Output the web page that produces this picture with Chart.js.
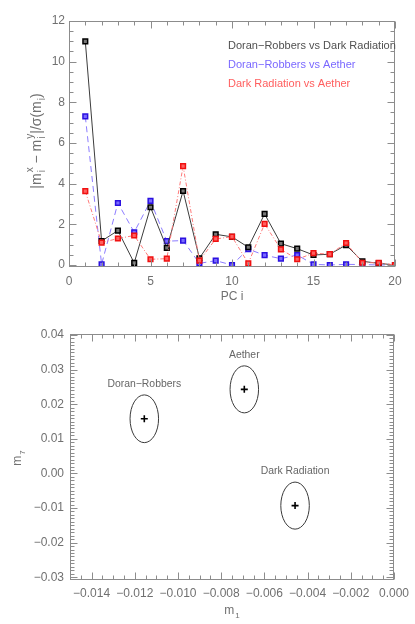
<!DOCTYPE html>
<html>
<head>
<meta charset="utf-8">
<script src="https://cdn.jsdelivr.net/npm/chart.js@4.4.0/dist/chart.umd.min.js"></script>
<style>
body{margin:0;background:#fff;}
canvas{position:absolute;left:0;}
#top{top:0;}
#bottom{top:310px;}
</style>
</head>
<body>
<canvas id="top" width="415" height="310"></canvas>
<canvas id="bottom" width="415" height="314"></canvas>
<script>
// top panel: |m_i^x - m_i^y| / sigma per PC
const pcIndex = [1,2,3,4,5,6,7,8,9,10,11,12,13,14,15,16,17,18,19,20];
const doranVsDark  = [11.0,1.18,1.69,0.10,2.84,0.84,3.64,0.33,1.51,1.38,0.87,2.51,1.05,0.80,0.49,0.53,0.98,0.18,0.08,0.0];
const doranVsAether = [7.31,0.03,3.05,1.61,3.15,1.17,1.20,0.08,0.21,0.0,0.78,0.48,0.31,0.49,0.03,0.0,0.03,0.02,0.0,0.0];
const darkVsAether = [3.63,1.10,1.30,1.45,0.28,0.31,4.86,0.21,1.28,1.39,0.08,2.02,0.77,0.28,0.58,0.53,1.08,0.11,0.11,0.0];
const topXTicks = [0,5,10,15,20];
const topXLabels = ['0','5','10','15','20'];
const topYTicks = [0,2,4,6,8,10,12];
const topYLabels = ['0','2','4','6','8','10','12'];

// bottom panel: models in the m1 / m7 plane
const models = ['Doran\u2212Robbers','Aether','Dark Radiation'];
const m1 = [-0.01156,-0.00693,-0.00458];
const m7 = [0.0158,0.0243,-0.0093];
const sig1 = [0.00066,0.00066,0.00066];
const sig7 = [0.0069,0.0068,0.0068];
const botXTicks = [-0.014,-0.012,-0.010,-0.008,-0.006,-0.004,-0.002,0.0];
const botXLabels = ['\u22120.014','\u22120.012','\u22120.010','\u22120.008','\u22120.006','\u22120.004','\u22120.002','0.000'];
const botYTicks = [-0.03,-0.02,-0.01,0.0,0.01,0.02,0.03,0.04];
const botYLabels = ['\u22120.03','\u22120.02','\u22120.01','0.00','0.01','0.02','0.03','0.04'];

const FONT = '"Liberation Sans", Arial, sans-serif';
const AXIS = '#8c8c8c';
const TXT = '#707070';

function drawRich(ctx, parts, x, y, rot, size, color) {
  const big = size + 'px ' + FONT, small = Math.round(size * 0.7) + 'px ' + FONT;
  ctx.save();
  ctx.translate(x, y);
  ctx.rotate(rot);
  let w = 0;
  parts.forEach(p => {
    ctx.font = big; w += ctx.measureText(p.t).width;
    ctx.font = small;
    let sw = 0;
    if (p.sub) sw = ctx.measureText(p.sub).width + 1;
    if (p.sup) sw = Math.max(sw, ctx.measureText(p.sup).width + 1);
    w += sw;
  });
  let cx = -w / 2;
  ctx.textBaseline = 'middle';
  ctx.textAlign = 'left';
  ctx.fillStyle = color;
  parts.forEach(p => {
    ctx.font = big; ctx.fillText(p.t, cx, 0); cx += ctx.measureText(p.t).width;
    ctx.font = small;
    let sw = 0;
    if (p.sub) { ctx.fillText(p.sub, cx + 1, size * 0.4); sw = ctx.measureText(p.sub).width + 1; }
    if (p.sup) { ctx.fillText(p.sup, cx + 1, -size * 0.45); sw = Math.max(sw, ctx.measureText(p.sup).width + 1); }
    cx += sw;
  });
  ctx.restore();
}

// box with inward ticks on all four sides
const frame = {
  id: 'frame',
  afterDatasetsDraw(chart, args, o) {
    const {ctx, chartArea: a, scales: {x, y}} = chart;
    const L = Math.round(a.left) + 0.5, R = Math.round(a.right) - 0.5;
    const T = Math.round(a.top) + 0.5, B = Math.round(a.bottom) - 0.5;
    ctx.save();
    ctx.strokeStyle = AXIS;
    ctx.lineWidth = 1;
    ctx.strokeRect(L, T, R - L, B - T);
    ctx.beginPath();
    const marks = (scale, step, major, fn) => {
      const k0 = Math.ceil(scale.min / step - 1e-6), k1 = Math.floor(scale.max / step + 1e-6);
      for (let k = k0; k <= k1; k++) {
        const v = k * step;
        const isMajor = Math.abs(v / major - Math.round(v / major)) < 1e-6;
        fn(Math.round(scale.getPixelForValue(v)) + 0.5, isMajor ? o.majorLen : o.minorLen);
      }
    };
    marks(x, o.xMinor, o.xMajor, (px, len) => {
      ctx.moveTo(px, B); ctx.lineTo(px, B - len);
      ctx.moveTo(px, T); ctx.lineTo(px, T + len);
    });
    marks(y, o.yMinor, o.yMajor, (py, len) => {
      ctx.moveTo(L, py); ctx.lineTo(L + len, py);
      ctx.moveTo(R, py); ctx.lineTo(R - len, py);
    });
    ctx.stroke();
    ctx.restore();
  }
};

// titles, legend lines
const texts = {
  id: 'texts',
  afterDraw(chart, args, o) {
    const ctx = chart.ctx;
    (o.items || []).forEach(it => {
      if (it.align === 'left') {
        ctx.save();
        ctx.font = it.size + 'px ' + FONT;
        ctx.fillStyle = it.color;
        ctx.textAlign = 'left';
        ctx.textBaseline = 'middle';
        ctx.fillText(it.parts[0].t, it.x, it.y);
        ctx.restore();
      } else {
        drawRich(ctx, it.parts, it.x, it.y, it.rot || 0, it.size, it.color);
      }
    });
  }
};

// 1-sigma ellipses and their model names
const ellipses = {
  id: 'ellipses',
  afterDatasetsDraw(chart, args, o) {
    if (!o.on) return;
    const {ctx, scales: {x, y}} = chart;
    ctx.save();
    models.forEach((name, i) => {
      const cx = x.getPixelForValue(m1[i]), cy = y.getPixelForValue(m7[i]);
      const rx = Math.abs(x.getPixelForValue(m1[i] + sig1[i]) - cx);
      const ry = Math.abs(y.getPixelForValue(m7[i] + sig7[i]) - cy);
      ctx.beginPath();
      ctx.strokeStyle = '#3a3a3a';
      ctx.lineWidth = 1;
      ctx.ellipse(cx, cy, rx, ry, 0, 0, Math.PI * 2);
      ctx.stroke();
      ctx.font = '10.4px ' + FONT;
      ctx.fillStyle = '#666';
      ctx.textAlign = 'center';
      ctx.textBaseline = 'middle';
      ctx.fillText(name, cx, cy - ry - 11);
    });
    ctx.restore();
  }
};

function pts(xs, ys) { return xs.map((v, i) => ({x: v, y: ys[i]})); }

function axis(min, max, ticks, labels, pad, fit) {
  return {
    type: 'linear', min: min, max: max,
    grid: {display: false, drawTicks: false, tickLength: 0}, border: {display: false},
    afterBuildTicks: s => { s.ticks = ticks.map(v => ({value: v})); },
    afterFit: fit,
    ticks: {color: TXT, padding: pad, font: {family: FONT, size: 12}, maxRotation: 0,
            callback: (v, i) => labels[i]}
  };
}

new Chart(document.getElementById('top'), {
  type: 'line',
  data: {
    datasets: [
      {data: pts(pcIndex, doranVsDark), order: 1, borderColor: '#3c3c3c', borderWidth: 1,
       pointStyle: 'rect', pointRadius: 3.3, pointBorderWidth: 1.5,
       pointBorderColor: '#000', pointBackgroundColor: '#777'},
      {data: pts(pcIndex, doranVsAether), order: 2, borderColor: '#8c7cff', borderWidth: 1, borderDash: [6, 4],
       pointStyle: 'rect', pointRadius: 3.3, pointBorderWidth: 1.5,
       pointBorderColor: '#2a10e0', pointBackgroundColor: '#7a6aff'},
      {data: pts(pcIndex, darkVsAether), order: 0, borderColor: '#ff7a7a', borderWidth: 1, borderDash: [4, 2, 1, 2],
       pointStyle: 'rect', pointRadius: 3.3, pointBorderWidth: 1.5,
       pointBorderColor: '#f01010', pointBackgroundColor: '#ff6060'}
    ]
  },
  options: {
    responsive: false, animation: false, devicePixelRatio: 1,
    layout: {padding: {top: 21, right: 20, left: 0, bottom: 0}},
    scales: {
      x: axis(0, 20, topXTicks, topXLabels, 7, s => { s.height = 43; }),
      y: axis(-0.1, 12, topYTicks, topYLabels, 4, s => { s.width = 69; })
    },
    plugins: {
      legend: {display: false}, tooltip: {enabled: false},
      frame: {xMajor: 5, xMinor: 1, yMajor: 2, yMinor: 0.5, majorLen: 7, minorLen: 4},
      texts: {items: [
        {parts: [{t: 'Doran\u2212Robbers vs Dark Radiation'}], x: 228, y: 46, size: 11, color: '#505050', align: 'left'},
        {parts: [{t: 'Doran\u2212Robbers vs Aether'}], x: 228, y: 65, size: 11, color: '#7a68ff', align: 'left'},
        {parts: [{t: 'Dark Radiation vs Aether'}], x: 228, y: 84, size: 11, color: '#ff5e5e', align: 'left'},
        {parts: [{t: 'PC i'}], x: 232, y: 297, size: 12, color: TXT},
        {parts: [{t: '|m', sub: 'i', sup: 'x'}, {t: ' \u2212 m', sub: 'i', sup: 'y'}, {t: '|/\u03c3(m', sub: 'i'}, {t: ')'}],
         x: 37, y: 141, rot: -Math.PI / 2, size: 14, color: TXT}
      ]},
      ellipses: {on: false}
    }
  },
  plugins: [frame, texts, ellipses]
});

new Chart(document.getElementById('bottom'), {
  type: 'scatter',
  data: {
    datasets: [
      {data: pts(m1, m7), pointStyle: 'cross', pointRadius: 3.5, pointBorderWidth: 1.6,
       pointBorderColor: '#000', showLine: false}
    ]
  },
  options: {
    responsive: false, animation: false, devicePixelRatio: 1,
    layout: {padding: {top: 24, right: 21, left: 0, bottom: 0}},
    scales: {
      x: axis(-0.015, 0, botXTicks, botXLabels, 6, s => { s.height = 44; }),
      y: axis(-0.0308, 0.0403, botYTicks, botYLabels, 6, s => { s.width = 70; })
    },
    plugins: {
      legend: {display: false}, tooltip: {enabled: false},
      frame: {xMajor: 0.002, xMinor: 0.0005, yMajor: 0.01, yMinor: 0.001, majorLen: 7, minorLen: 4},
      texts: {items: [
        {parts: [{t: 'm', sub: '1'}], x: 232, y: 301, size: 12, color: TXT},
        {parts: [{t: 'm', sub: '7'}], x: 18, y: 148, rot: -Math.PI / 2, size: 12, color: TXT}
      ]},
      ellipses: {on: true}
    }
  },
  plugins: [frame, texts, ellipses]
});
</script>
</body>
</html>
